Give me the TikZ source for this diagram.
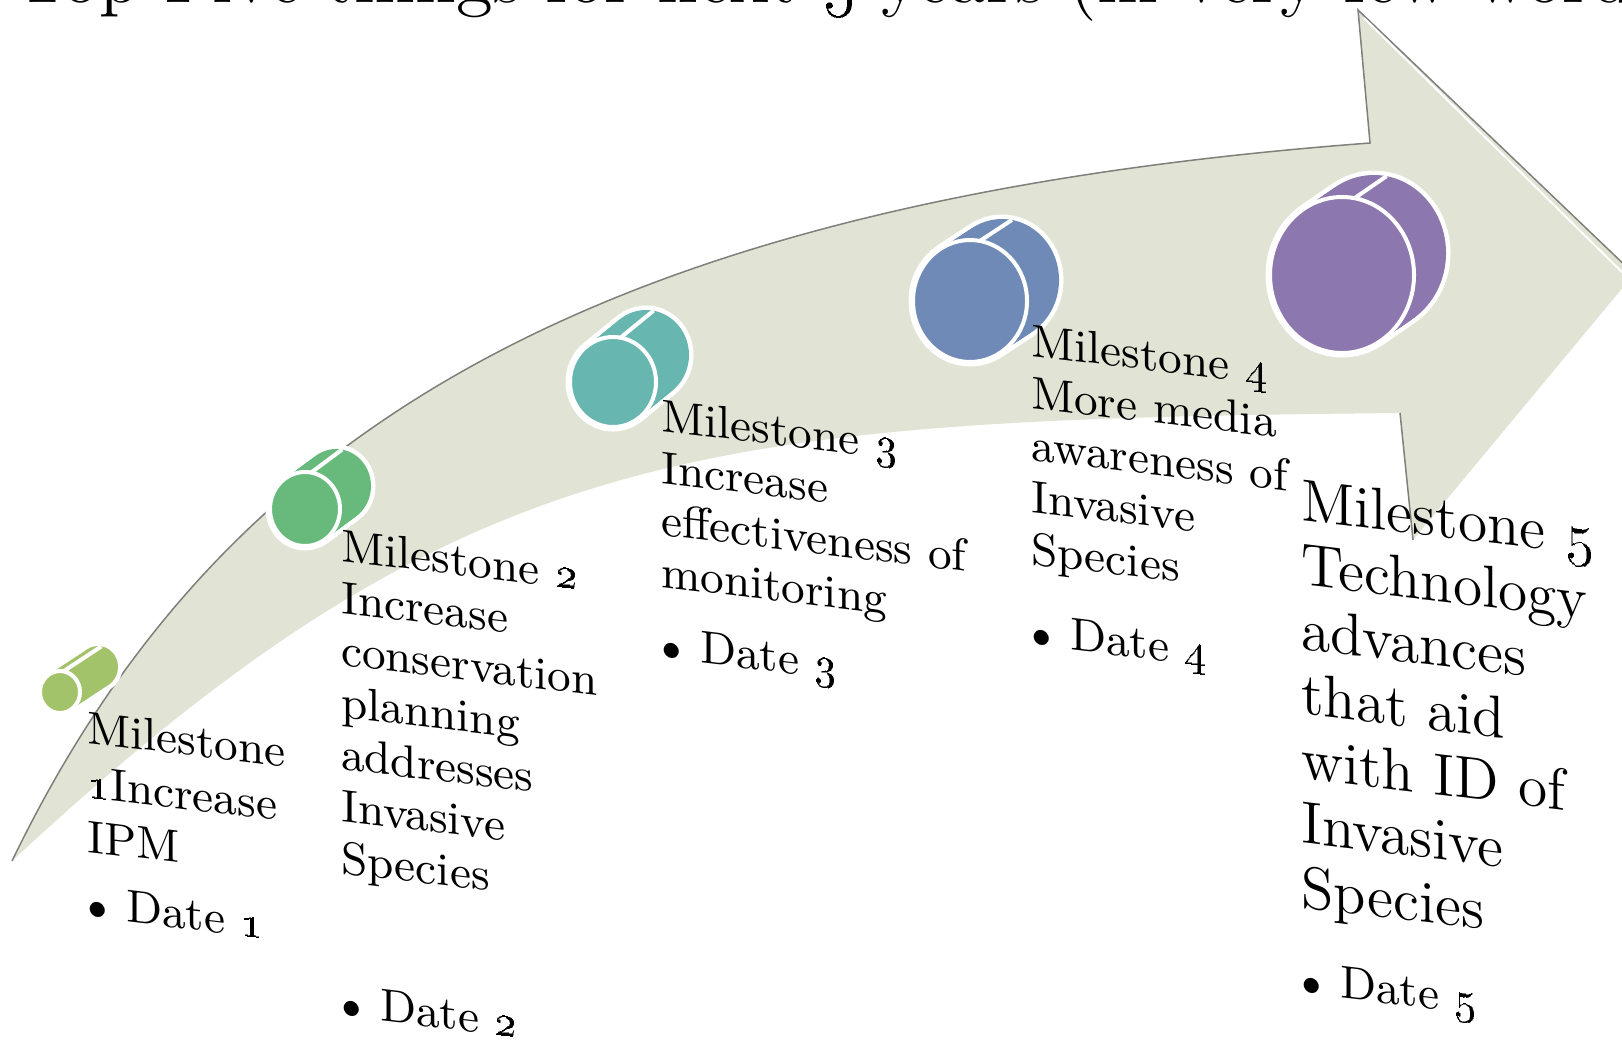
\documentclass[tikz,border=0pt]{standalone}
\usetikzlibrary{calc}
\definecolor{arrowfill}{HTML}{E1E4D5}
\definecolor{arrowedge}{HTML}{7E807A}
\definecolor{cylA}{HTML}{A3C36B}
\definecolor{cylB}{HTML}{67BA7B}
\definecolor{cylC}{HTML}{68B6B0}
\definecolor{cylD}{HTML}{6F8AB6}
\definecolor{cylE}{HTML}{8C77AE}
\newcommand\msfont{\fontsize{9.2pt}{10.4pt}\selectfont}
\newcommand\msfontA{\fontsize{9.2pt}{10.9pt}\selectfont}
\newcommand\msfontE{\fontsize{11.9pt}{12.9pt}\selectfont}
\newcommand\osn[1]{\oldstylenums{#1}}
\newcommand\bul{\makebox[7.8pt][l]{\fontsize{7pt}{7pt}\selectfont$\bullet$}}
% #1 cx, #2 cy, #3 rx, #4 ry, #5 dx, #6 dy, #7 colour
\newcommand\drawcyl[7]{%
  \foreach \i in {0,1,...,10}{\draw[white, line width=1.8pt] ({#1+\i*(#5)/10}, {#2+\i*(#6)/10}) ellipse [x radius=#3, y radius=#4];}
  \foreach \i in {0,1,...,10}{\fill[#7] ({#1+\i*(#5)/10}, {#2+\i*(#6)/10}) ellipse [x radius=#3, y radius=#4];}
  \draw[white, line width=0.8pt] ($(#1,#2)+(-80:#3 and #4)$) -- ++(#5,#6);
  \draw[fill=#7, draw=white, line width=0.8pt] (#1,#2) ellipse [x radius=#3, y radius=#4];
}
\begin{document}
\begin{tikzpicture}[x=0.2pt,y=-0.2pt,
  mstext/.style={anchor=north west, inner sep=0pt, align=left, yslant=-0.12, text=black},
  datetext/.style={anchor=base west, inner sep=0pt, yslant=-0.12, font=\msfont, text=black}]
\useasboundingbox (0,0) rectangle (1622,1040);
\fill[white] (0,0) rectangle (1622,1040);
\clip (0,0) rectangle (1622,1040);

% title (cut off at the top)
\node[anchor=base west, inner sep=0pt, font=\fontsize{14.95pt}{17pt}\selectfont] (title) at (15,2)
  {Top Five things for next \osn{5} years (in very few words)};

% curved arrow
\coordinate (tail) at (12,861);
\coordinate (neckU) at (1370,143);
\coordinate (headU) at (1358,10);
\coordinate (tip) at (1634,274);
\coordinate (headL) at (1413,540);
\coordinate (neckL) at (1400,413);
\fill[arrowfill] (tail) .. controls (212,447) and (570,203) .. (neckU) -- (headU) -- (tip) -- (headL) -- (neckL)
   .. controls (700,420) and (462,442) .. (tail) -- cycle;
\draw[arrowedge, line width=0.3pt] (tail) .. controls (212,447) and (570,203) .. (neckU) -- (headU) -- (tip);
\draw[arrowedge, line width=0.3pt] (neckL) -- (headL);
\draw[white, line width=0.4pt] ($(headU)+(6,8)$) -- ($(tip)+(-6,4)$);

% cylinders
\drawcyl{60}{692}{20}{21}{38}{-25}{cylA}
\drawcyl{305}{509}{35}{37}{31}{-23}{cylB}
\drawcyl{613}{382}{43}{45}{33}{-27}{cylC}
\drawcyl{970}{301}{57}{61}{32}{-21}{cylD}
\drawcyl{1342}{275}{72}{78}{32}{-22}{cylE}

% milestone texts
\node[mstext, font=\msfontA] (m1) at (86,710) {Milestone\\\osn{1}Increase\\IPM};
\node[datetext] (d1) at (86,917) {\bul Date \osn{1}};

\node[mstext, font=\msfont] (m2) at (340,528) {Milestone \osn{2}\\Increase\\conservation\\planning\\addresses\\Invasive\\Species};
\node[datetext] (d2) at (340,1016) {\bul Date \osn{2}};

\node[mstext, font=\msfont] (m3) at (660,398) {Milestone \osn{3}\\Increase\\effectiveness of\\monitoring};
\node[datetext] (d3) at (660,658) {\bul Date \osn{3}};

\node[mstext, font=\msfont] (m4) at (1030,323) {Milestone \osn{4}\\More media\\awareness of\\Invasive\\Species};
\node[datetext] (d4) at (1030,645) {\bul Date \osn{4}};

\node[mstext, font=\msfontE] (m5) at (1300,478) {Milestone \osn{5}\\Technology\\advances\\that aid\\with ID of\\Invasive\\Species};
\node[datetext] (d5) at (1300,993) {\bul Date \osn{5}};
\end{tikzpicture}
\end{document}
